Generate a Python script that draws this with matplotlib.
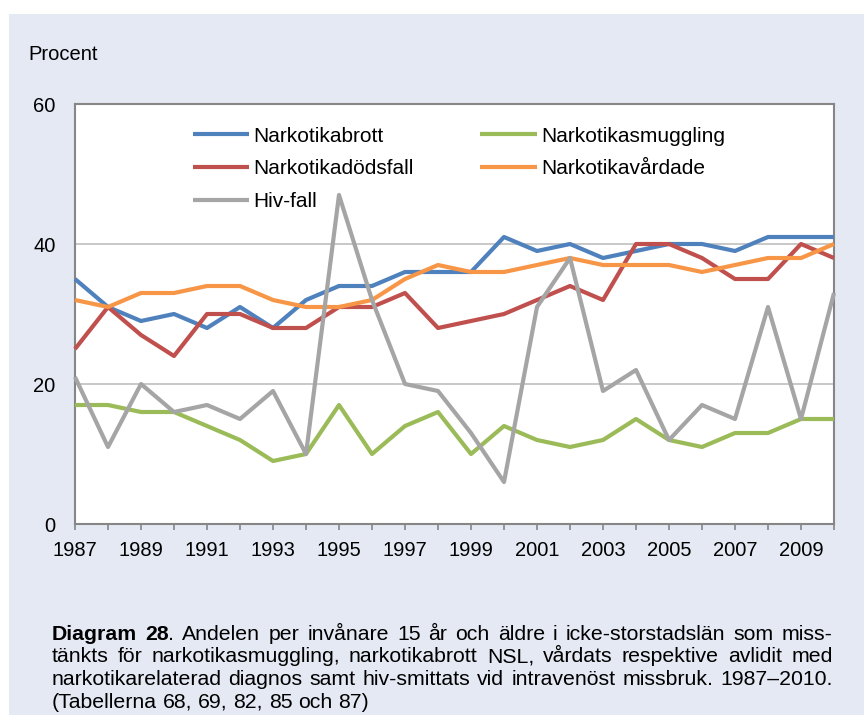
import matplotlib
matplotlib.use('Agg')
import matplotlib.pyplot as plt
from matplotlib.patches import Rectangle

# data
years = list(range(1987, 2011))
narkotikabrott = [35, 31, 29, 30, 28, 31, 28, 32, 34, 34, 36, 36,
                  36, 41, 39, 40, 38, 39, 40, 40, 39, 41, 41, 41]
narkotikasmuggling = [17, 17, 16, 16, 14, 12, 9, 10, 17, 10, 14, 16,
                      10, 14, 12, 11, 12, 15, 12, 11, 13, 13, 15, 15]
narkotikadodsfall = [25, 31, 27, 24, 30, 30, 28, 28, 31, 31, 33, 28,
                     29, 30, 32, 34, 32, 40, 40, 38, 35, 35, 40, 38]
narkotikavardade = [32, 31, 33, 33, 34, 34, 32, 31, 31, 32, 35, 37,
                    36, 36, 37, 38, 37, 37, 37, 36, 37, 38, 38, 40]
hiv_fall = [21, 11, 20, 16, 17, 15, 19, 10, 47, 32, 20, 19,
            13, 6, 31, 38, 19, 22, 12, 17, 15, 31, 15, 33]

y_ticks = [0, 20, 40, 60]
x_labels = [str(y) if y % 2 == 1 else '' for y in years]

caption_lines = [
    'Diagram 28. Andelen per invånare 15 år och äldre i icke-storstadslän som miss-',
    'tänkts för narkotikasmuggling, narkotikabrott NSL, vårdats respektive avlidit med',
    'narkotikarelaterad diagnos samt hiv-smittats vid intravenöst missbruk. 1987–2010.',
    '(Tabellerna 68, 69, 82, 85 och 87)',
]
caption_bold = ['Diagram', '28']

W, H = 864, 715
BG = '#E5E9F4'
FONT = ['Liberation Sans', 'DejaVu Sans']
plt.rcParams['font.family'] = FONT


def fx(x):
    return x / W


def fy(y):
    return 1 - y / H


fig = plt.figure(figsize=(W / 100, H / 100), dpi=100)
fig.patch.set_facecolor('white')
fig.patches.append(Rectangle((fx(9), 0), 1 - fx(9), fy(14), transform=fig.transFigure,
                             facecolor=BG, edgecolor='none', zorder=-10))

ax = fig.add_axes([fx(75), fy(524), fx(834) - fx(75), fy(104) - fy(524)])
ax.set_facecolor('white')

series = [
    ('Narkotikabrott', narkotikabrott, '#4F81BD'),
    ('Narkotikadödsfall', narkotikadodsfall, '#C0504D'),
    ('Hiv-fall', hiv_fall, '#A5A5A5'),
    ('Narkotikasmuggling', narkotikasmuggling, '#9BBB59'),
    ('Narkotikavårdade', narkotikavardade, '#F79646'),
]
draw_order = ['Narkotikabrott', 'Narkotikasmuggling', 'Narkotikadödsfall', 'Narkotikavårdade', 'Hiv-fall']
lines = {}
for name, vals, col in series:
    z = 3 + draw_order.index(name)
    ln, = ax.plot(years, vals, color=col, lw=3, label=name, zorder=z,
                  solid_joinstyle='round', solid_capstyle='butt', clip_on=False)
    lines[name] = ln

ax.set_xlim(1987, 2010)
ax.set_ylim(0, 60)
ax.set_yticks(y_ticks)
ax.set_xticks(years)
ax.set_xticklabels(x_labels)
ax.grid(axis='y', color='#BFBFBF', lw=1.2, zorder=0)
ax.set_axisbelow(True)
for sp in ax.spines.values():
    sp.set_color('#868686')
    sp.set_linewidth(1.5)
ax.tick_params(axis='y', length=0, pad=14, labelsize=14.5)
ax.tick_params(axis='x', length=4.3, width=1.2, color='#868686', direction='out',
               pad=8, labelsize=14.5)

leg = ax.legend([lines[s[0]] for s in series], [s[0] for s in series], ncol=2,
                loc='upper left', bbox_to_anchor=(fx(193), fy(126.5)),
                bbox_transform=fig.transFigure, frameon=False, fontsize=15,
                handlelength=2.7, handletextpad=0.2, columnspacing=3.2,
                labelspacing=0.66, borderpad=0, borderaxespad=0)

fig.text(fx(28), fy(55), 'Procent', fontsize=14.5, va='center', ha='left')

# caption, justified like the original text block
cap_size = 15.3
left, right = 51.5, 832.5
baselines = [640, 662.5, 685, 708]
fig.canvas.draw()
renderer = fig.canvas.get_renderer()


def seg_width(s, weight):
    t = fig.text(0, 0, s, fontsize=cap_size, fontweight=weight)
    w = t.get_window_extent(renderer).width
    t.remove()
    return w


space_w = seg_width('a a', 'normal') - seg_width('aa', 'normal')
for i, line in enumerate(caption_lines):
    words = []
    for w in line.split(' '):
        core = w.rstrip('.')
        if i == 0 and core in caption_bold:
            segs = [(core, 'bold')]
            if w != core:
                segs.append((w[len(core):], 'normal'))
        else:
            segs = [(w, 'normal')]
        words.append(segs)
    widths = [sum(seg_width(s, wt) for s, wt in segs) for segs in words]
    if i < len(caption_lines) - 1:
        gap = (right - left - sum(widths)) / (len(words) - 1)
    else:
        gap = space_w
    x = left
    for segs, ww in zip(words, widths):
        xs = x
        for s, wt in segs:
            fig.text(fx(xs), fy(baselines[i]), s, fontsize=cap_size, fontweight=wt,
                     va='baseline', ha='left', color='black')
            xs += seg_width(s, wt)
        x += ww + gap

fig.savefig('out.png', dpi=100, facecolor='white')
